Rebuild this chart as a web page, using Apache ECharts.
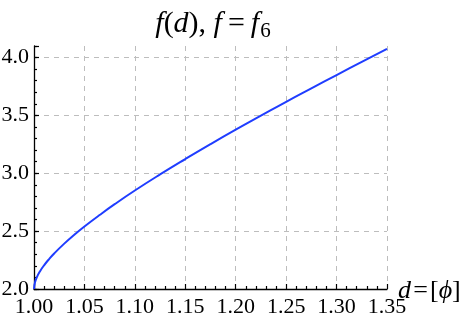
<!DOCTYPE html>
<html>
<head>
<meta charset="utf-8">
<script src="https://cdn.jsdelivr.net/npm/echarts@6/dist/echarts.min.js"></script>
<style>
html,body{margin:0;padding:0;background:#fff;}
#c{width:468px;height:324px;}
</style>
</head>
<body>
<div id="c"></div>
<script>
// d values (x) and f(d) values
var dValues = [1.000, 1.001, 1.003, 1.006, 1.010, 1.015, 1.020, 1.030, 1.040, 1.050, 1.065, 1.080, 1.100, 1.125, 1.150, 1.175, 1.200, 1.225, 1.250, 1.275, 1.300, 1.325, 1.350];
var fValues = [2.000, 2.058, 2.105, 2.154, 2.205, 2.259, 2.307, 2.392, 2.469, 2.540, 2.639, 2.733, 2.851, 2.990, 3.123, 3.252, 3.377, 3.498, 3.618, 3.734, 3.849, 3.963, 4.075];
var xTickLabels = ['1.00','1.05','1.10','1.15','1.20','1.25','1.30','1.35'];
var yTickLabels = ['2.0','2.5','3.0','3.5','4.0'];

var FONT = 'Liberation Serif';
var chart = echarts.init(document.getElementById('c'), null, {renderer: 'canvas'});
var data = dValues.map(function (d, i) { return [d, fValues[i]]; });

function labelFor(list, v, digits) {
  var s = v.toFixed(digits);
  return list.indexOf(s) >= 0 ? '{t|' + s + '}' : '';
}
var tickRich = {t: {fontFamily: FONT, fontSize: 22, color: '#000'}};

var gridDash = {color: '#bdbdbd', width: 1, type: [5, 5]};

chart.setOption({
  animation: false,
  backgroundColor: '#fff',
  grid: {left: 34, right: 81, top: 46, bottom: 35, containLabel: false, outerBoundsMode: 'none'},
  graphic: [{
    type: 'text',
    x: 213, y: 24,
    style: {
      text: '{i|f}{n|(}{i|d}{n|), }{i|f}{n|\u2009=\u2009}{i|f}{s|6}',
      align: 'center', verticalAlign: 'middle',
      fill: '#000',
      rich: {
        i: {fontFamily: FONT, fontStyle: 'italic', fontSize: 30, fill: '#000', lineHeight: 34},
        n: {fontFamily: FONT, fontSize: 30, fill: '#000', lineHeight: 34},
        s: {fontFamily: FONT, fontSize: 21, fill: '#000', lineHeight: 21, padding: [14, 0, 0, 1]}
      }
    }
  }],
  xAxis: {
    type: 'value', min: 1.0, max: 1.35, interval: 0.05,
    name: '{i|d}{n|\u200a=\u200a[}{i|\u03d5}{n|]}',
    nameLocation: 'end', nameGap: 11, nameMoveOverlap: false,
    nameTruncate: {maxWidth: 200},
    nameTextStyle: {
      verticalAlign: 'middle', padding: [4, 0, 0, 0],
      overflow: 'none',
      rich: {
        i: {fontFamily: FONT, fontStyle: 'italic', fontSize: 26, color: '#000'},
        n: {fontFamily: FONT, fontSize: 26, color: '#000'}
      }
    },
    axisLine: {show: true, onZero: false, lineStyle: {color: '#000', width: 1.3}},
    axisTick: {show: true, inside: true, length: 5, lineStyle: {color: '#000', width: 1.2}},
    minorTick: {show: true, splitNumber: 5, length: 3, lineStyle: {color: '#000', width: 1.2}},
    axisLabel: {
      show: true, margin: 7, color: '#000', fontFamily: FONT, fontSize: 22, rich: tickRich,
      formatter: function (v) { return labelFor(xTickLabels, v, 2); }
    },
    splitLine: {show: true, showMinLine: false, lineStyle: gridDash}
  },
  yAxis: [{
    type: 'value', min: 2.0, max: 4.1, interval: 0.5, position: 'left',
    axisLine: {show: true, onZero: false, lineStyle: {color: '#000', width: 1.3}},
    axisTick: {show: true, inside: true, length: 5, lineStyle: {color: '#000', width: 1.2}},
    axisLabel: {
      show: true, margin: 5, color: '#000', fontFamily: FONT, fontSize: 22, rich: tickRich,
      formatter: function (v) { return labelFor(yTickLabels, v, 1); }
    },
    splitLine: {show: true, showMinLine: false, showMaxLine: false, lineStyle: gridDash}
  }, {
    type: 'value', min: 2.0, max: 4.1, interval: 0.1, position: 'left', offset: 0,
    axisLine: {show: false},
    axisTick: {show: true, inside: true, length: 3, lineStyle: {color: '#000', width: 1.2}},
    axisLabel: {show: false},
    splitLine: {show: false}
  }],
  series: [{
    type: 'line', data: data, yAxisIndex: 0,
    showSymbol: false, smooth: true, clip: false,
    lineStyle: {color: '#1f3dff', width: 2}
  }]
});
</script>
</body>
</html>
